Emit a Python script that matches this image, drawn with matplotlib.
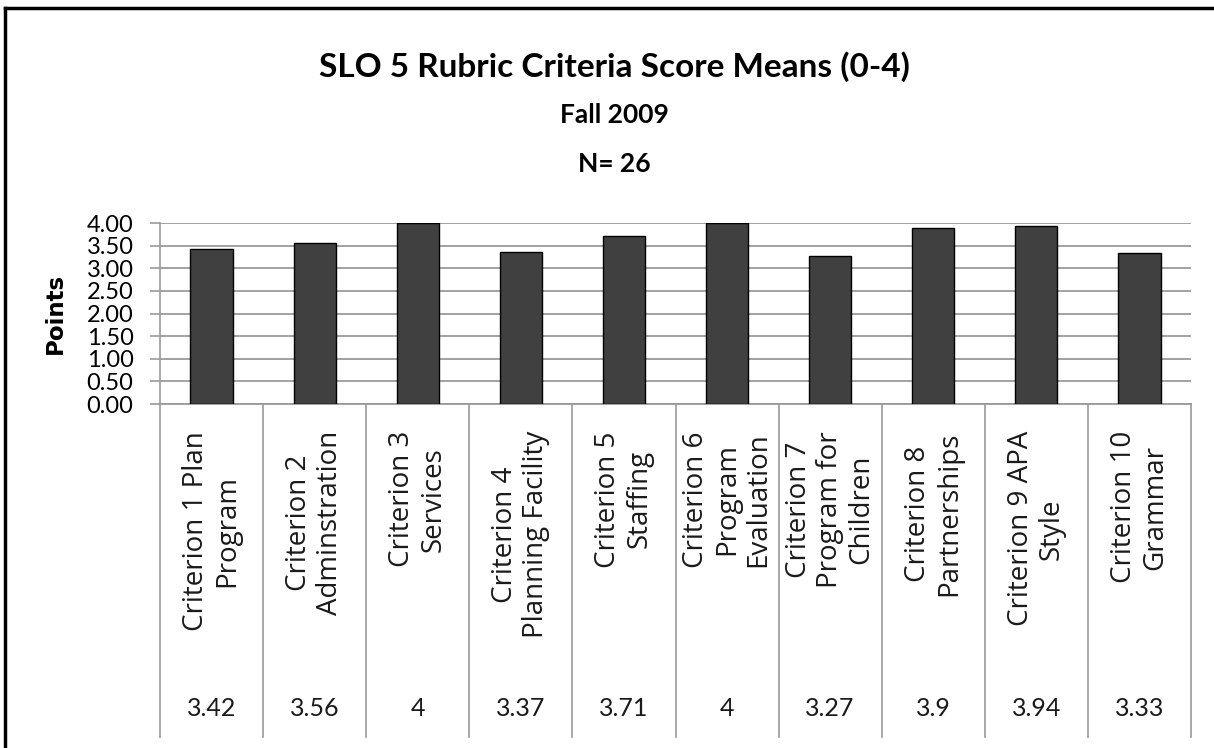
import matplotlib
matplotlib.use('Agg')
import matplotlib.pyplot as plt
from matplotlib.lines import Line2D

categories = ['Criterion 1 Plan\nProgram', 'Criterion 2\nAdminstration',
              'Criterion 3\nServices', 'Criterion 4\nPlanning Facility',
              'Criterion 5\nStaffing', 'Criterion 6\nProgram\nEvaluation',
              'Criterion 7\nProgram for\nChildren', 'Criterion 8\nPartnerships',
              'Criterion 9 APA\nStyle', 'Criterion 10\nGrammar']
means = [3.42, 3.56, 4, 3.37, 3.71, 4, 3.27, 3.9, 3.94, 3.33]
yticks = [0, 0.5, 1, 1.5, 2, 2.5, 3, 3.5, 4]

num_font = ['Lato', 'DejaVu Sans']
grid_c = '#9a9a9a'

fig = plt.figure(figsize=(12.14, 7.48), dpi=100)
ax = fig.add_axes([160/1214, 1-404/748, (1191-160)/1214, (404-223)/748])

x = list(range(len(means)))
ax.bar(x, means, width=0.41, color='#404040', edgecolor='black', linewidth=1, zorder=3)

ax.set_xlim(-0.5, len(means) - 0.5)
ax.set_ylim(0, 4)
ax.set_yticks(yticks)
ax.set_yticklabels(['%.2f' % t for t in yticks], family=num_font, fontsize=17)
ax.tick_params(axis='y', length=7, width=1.2, color=grid_c, pad=12)
ax.set_xticks([])
ax.yaxis.grid(True, color=grid_c, linewidth=1.3, zorder=0)
for s in ['top', 'right']:
    ax.spines[s].set_visible(False)
ax.spines['left'].set_color(grid_c)
ax.spines['left'].set_linewidth(1.2)
ax.spines['bottom'].set_color(grid_c)
ax.spines['bottom'].set_linewidth(1.3)
ax.set_ylabel('Points', family='DejaVu Sans', fontweight='bold', fontsize=16.5)
ax.yaxis.set_label_coords(-0.09, 0.5)

# data table under the axis
tr = ax.get_xaxis_transform()
for k in range(len(means) + 1):
    ax.plot([k - 0.5, k - 0.5], [0, -1.84], color=grid_c, lw=1.2,
            transform=tr, clip_on=False)
for xi, name, v in zip(x, categories, means):
    ax.text(xi, -0.15, name, rotation=90, ha='center', va='top',
            multialignment='center', family='Open Sans', fontsize=20,
            color='#1a1a1a', transform=tr, linespacing=1.15)
    ax.text(xi, -1.68, '%g' % v, ha='center', va='center', family=num_font,
            fontsize=18, color='#1a1a1a', transform=tr)

# titles
fig.text(0.506, 1-77/748, 'SLO 5 Rubric Criteria Score Means (0-4)', ha='center',
         va='baseline', family=num_font, fontweight='bold', fontsize=24)
fig.text(0.506, 1-123/748, 'Fall 2009', ha='center', va='baseline',
         family=num_font, fontweight='bold', fontsize=19)
fig.text(0.506, 1-172/748, 'N= 26', ha='center', va='baseline',
         family=num_font, fontweight='bold', fontsize=19)

# outer frame (left and top edge)
fig.add_artist(Line2D([4.5/1214, 4.5/1214], [0, 1-7.5/748], color='black', lw=2.5))
fig.add_artist(Line2D([4.5/1214, 1], [1-7.5/748, 1-7.5/748], color='black', lw=2.5))

fig.savefig('out.png', dpi=100, facecolor='white')
